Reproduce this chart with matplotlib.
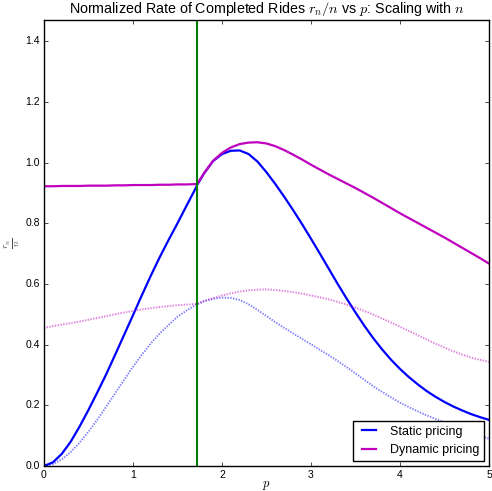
import numpy as np
import matplotlib
matplotlib.use('Agg')
import matplotlib.pyplot as plt

plt.style.use('classic')
plt.rcParams['font.family'] = ['Liberation Sans', 'DejaVu Sans']

# price grid and curves
p = [0.0, 0.1, 0.2, 0.3, 0.4, 0.5, 0.6, 0.7, 0.8, 0.9, 1.0, 1.1, 1.2, 1.3, 1.4, 1.5,
     1.6, 1.7, 1.72, 1.8, 1.9, 2.0, 2.1, 2.2, 2.3, 2.4, 2.5, 2.6, 2.7, 2.8, 2.9, 3.0,
     3.1, 3.2, 3.3, 3.4, 3.5, 3.6, 3.7, 3.8, 3.9, 4.0, 4.1, 4.2, 4.3, 4.4, 4.5, 4.6,
     4.7, 4.8, 4.9, 5.0]
# large n (solid)
static_big = [0, 0.012, 0.04, 0.08, 0.13, 0.185, 0.243, 0.303, 0.367, 0.432, 0.497,
              0.563, 0.627, 0.688, 0.745, 0.80, 0.857, 0.913, 0.926,
              0.965, 1.005, 1.028, 1.039, 1.040, 1.028, 1.003, 0.968, 0.929, 0.887,
              0.843, 0.797, 0.749, 0.70, 0.65, 0.60, 0.552, 0.506, 0.462, 0.421,
              0.384, 0.350, 0.320, 0.293, 0.269, 0.247, 0.228, 0.211, 0.196, 0.183,
              0.171, 0.161, 0.152]
dynamic_big = [0.922, 0.922, 0.923, 0.923, 0.923, 0.924, 0.924, 0.924, 0.925, 0.925,
               0.926, 0.926, 0.926, 0.927, 0.927, 0.928, 0.928, 0.929, 0.929,
               0.966, 1.006, 1.032, 1.050, 1.061, 1.066, 1.067, 1.063, 1.054, 1.041,
               1.026, 1.010, 0.993, 0.977, 0.961, 0.946, 0.931, 0.916, 0.90, 0.884,
               0.867, 0.85, 0.833, 0.817, 0.801, 0.785, 0.769, 0.753, 0.736, 0.719,
               0.702, 0.685, 0.667]
# smaller n (dotted)
static_small = [0, 0.006, 0.022, 0.046, 0.077, 0.113, 0.153, 0.196, 0.24, 0.284,
                0.327, 0.367, 0.404, 0.437, 0.465, 0.492, 0.512, 0.53, 0.533,
                0.543, 0.551, 0.555, 0.554, 0.547, 0.533, 0.514, 0.494, 0.474, 0.455,
                0.437, 0.419, 0.401, 0.383, 0.365, 0.346, 0.326, 0.305, 0.284, 0.263,
                0.244, 0.226, 0.209, 0.194, 0.18, 0.167, 0.155, 0.144, 0.133, 0.122,
                0.111, 0.10, 0.09]
dynamic_small = [0.455, 0.461, 0.466, 0.471, 0.476, 0.482, 0.488, 0.494, 0.50, 0.506,
                 0.511, 0.516, 0.52, 0.524, 0.527, 0.53, 0.532, 0.534, 0.535,
                 0.544, 0.553, 0.562, 0.569, 0.575, 0.579, 0.581, 0.582, 0.58, 0.577,
                 0.573, 0.568, 0.562, 0.556, 0.549, 0.541, 0.532, 0.522, 0.511, 0.499,
                 0.486, 0.473, 0.459, 0.445, 0.431, 0.417, 0.403, 0.39, 0.378, 0.367,
                 0.357, 0.35, 0.343]
p_star = 1.72

fig = plt.figure(figsize=(4.92, 4.91), dpi=100)
ax = fig.add_axes([0.0894, 0.0509, 0.9045, 0.9084])
ax.plot(p, static_big, 'b-', lw=1.6, label='Static pricing')
ax.plot(p, dynamic_big, 'm-', lw=1.6, label='Dynamic pricing')
ax.plot(p, static_small, 'b', lw=1.4, alpha=0.5, dashes=(1.0, 1.0))
ax.plot(p, dynamic_small, 'm', lw=1.4, alpha=0.5, dashes=(1.0, 1.0))
ax.axvline(p_star, color='g', lw=1.5)
ax.set_xlim(0, 5)
ax.set_ylim(0, 1.47)
ax.set_title(r'Normalized Rate of Completed Rides $r_n/n$ vs $p$: Scaling with $n$',
             fontsize=10.3)
ax.set_xlabel(r'$p$', fontsize=9, labelpad=-1)
ax.set_ylabel(r'$\frac{r_n}{n}$', fontsize=10, color='0.3', labelpad=2)
ax.tick_params(labelsize=7.5, length=3, pad=3)
ax.legend(loc='lower right', fontsize=9, handlelength=1.7, borderaxespad=0.4)
fig.savefig('out.png', dpi=100)
